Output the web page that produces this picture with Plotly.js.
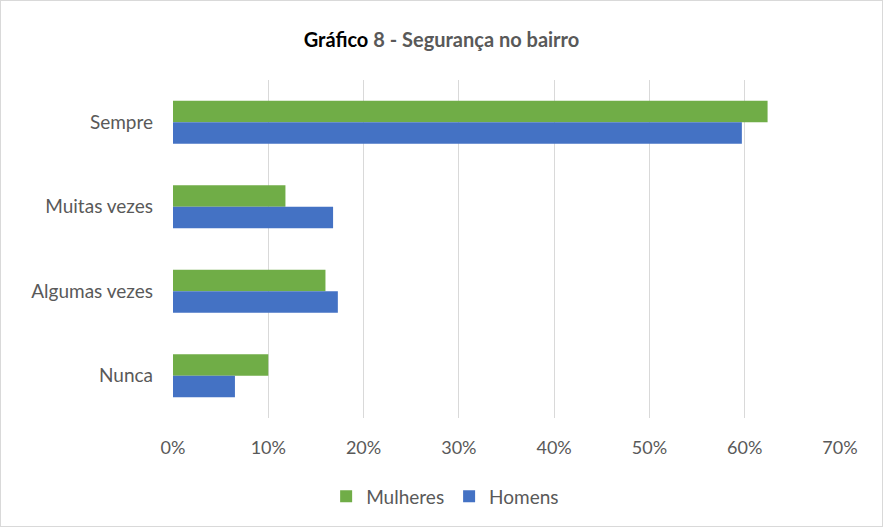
<!DOCTYPE html>
<html>
<head>
<meta charset="utf-8">
<script src="https://cdn.plot.ly/plotly-3.0.1.min.js"></script>
<style>
  html, body { margin: 0; padding: 0; background: #fff; }
  #chart { width: 881px; height: 525px; border: 1px solid #d9d9d9; }
</style>
</head>
<body>
<div id="chart"></div>
<script>
const categories = ["Sempre", "Muitas vezes", "Algumas vezes", "Nunca"];
const mulheres = [0.624, 0.118, 0.160, 0.100];
const homens = [0.597, 0.168, 0.173, 0.065];
const xTickVals = [0, 0.1, 0.2, 0.3, 0.4, 0.5, 0.6, 0.7];
const xTickText = ["0%", "10%", "20%", "30%", "40%", "50%", "60%", "70%"];

const font = "Lato, 'Open Sans', sans-serif";
const gray = "#595959";

const data = [
  { type: "bar", orientation: "h", name: "Mulheres", y: categories, x: mulheres,
    marker: { color: "#70ad47" }, hoverinfo: "x" },
  { type: "bar", orientation: "h", name: "Homens", y: categories, x: homens,
    marker: { color: "#4472c4" }, hoverinfo: "x" }
];

const layout = {
  width: 881, height: 525,
  margin: { l: 172, r: 42, t: 79, b: 107 },
  paper_bgcolor: "#fff", plot_bgcolor: "#fff",
  barmode: "group", bargap: 0.49, bargroupgap: 0,
  title: {
    text: "<b><span style='color:#000'>Gráfico</span> 8 - Segurança no bairro</b>",
    font: { family: font, size: 20, color: gray },
    x: 0.5, xref: "container", xanchor: "center",
    y: 0.925, yref: "container", yanchor: "middle"
  },
  xaxis: {
    range: [0, 0.7], tickvals: xTickVals, ticktext: xTickText,
    showgrid: true, gridcolor: "#d9d9d9", gridwidth: 1,
    zeroline: false, showline: false, ticks: "",
    tickfont: { family: font, size: 18, color: gray },
    ticklabelstandoff: 17, fixedrange: true
  },
  yaxis: {
    autorange: "reversed", showgrid: false, zeroline: false, showline: false,
    ticks: "", tickfont: { family: font, size: 19, color: gray },
    ticklabelstandoff: 19, fixedrange: true
  },
  showlegend: true,
  legend: {
    orientation: "h", x: 0.408, xanchor: "center", y: -0.228, yanchor: "middle",
    font: { family: font, size: 19, color: gray }, traceorder: "normal",
    itemclick: false, itemwidth: 30
  }
};

Plotly.newPlot("chart", data, layout, { displayModeBar: false, staticPlot: true });
</script>
</body>
</html>
